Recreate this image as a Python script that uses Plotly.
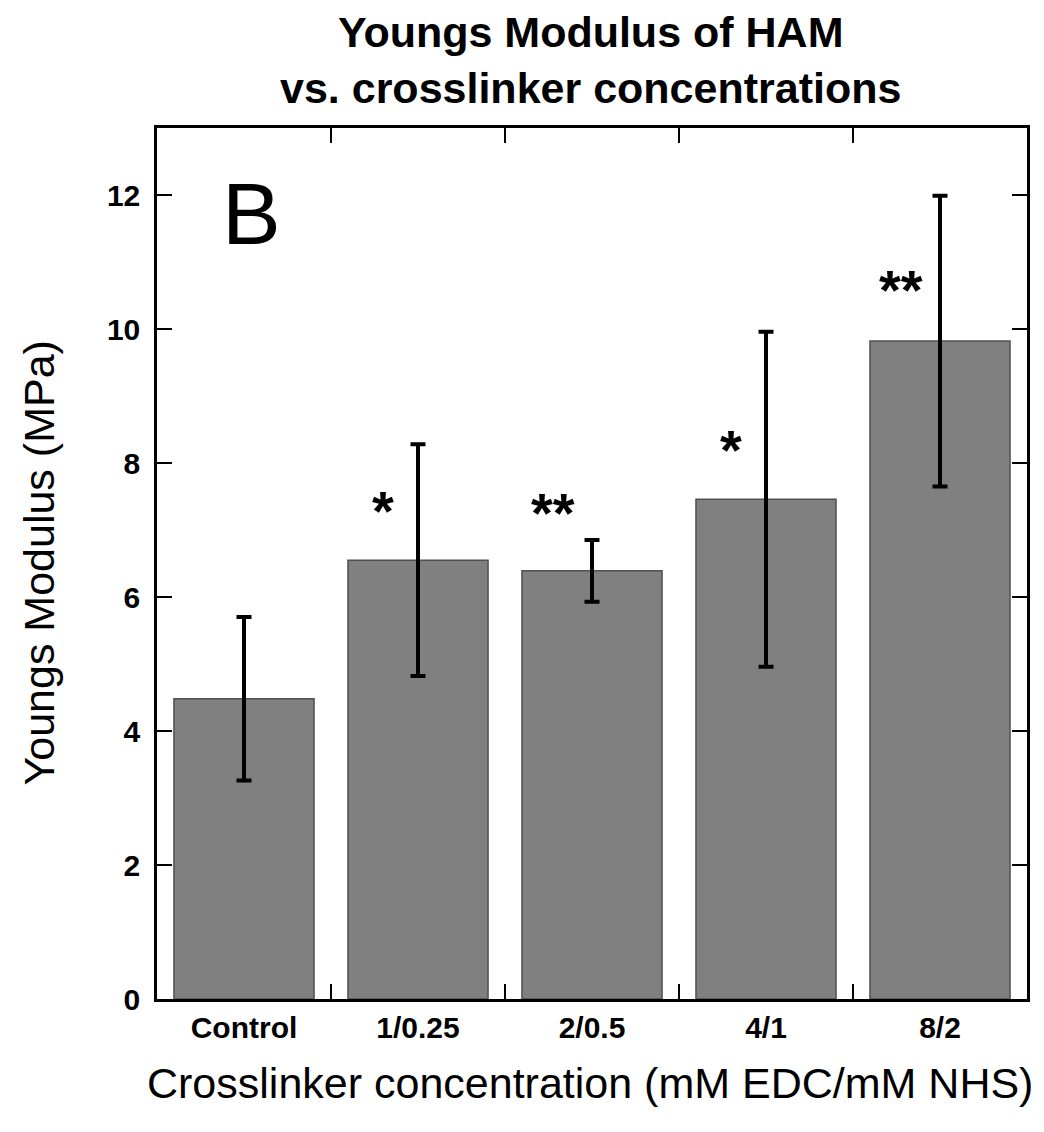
import plotly.graph_objects as go

categories = ["Control", "1/0.25", "2/0.5", "4/1", "8/2"]
modulus = [4.48, 6.55, 6.39, 7.46, 9.82]
err = [1.22, 1.73, 0.46, 2.50, 2.17]
signif = ["", "*", "**", "*", "**"]
signif_y = [None, 7.40, 7.37, 8.31, 10.69]

FONT = "Arial"

fig = go.Figure()
fig.add_trace(go.Bar(
    x=categories, y=modulus,
    marker=dict(color="#808080", line=dict(color="#505050", width=1.5)),
    width=0.805,
    error_y=dict(type="data", array=err, visible=True, color="black", thickness=4, width=7.5),
))

for i, s in enumerate(signif):
    if s:
        fig.add_annotation(x=categories[i], y=signif_y[i], xref="x", yref="y",
                           text="<b>" + s + "</b>", showarrow=False,
                           xanchor="center", yanchor="middle",
                           xshift=-35 if len(s) == 1 else -39, yshift=-7,
                           font=dict(family=FONT, size=56, color="black"))

fig.add_annotation(x=0.109, y=0.902, xref="paper", yref="paper", text="B", showarrow=False,
                   xanchor="center", yanchor="middle",
                   font=dict(family=FONT, size=88, color="black"))

# chart title
fig.add_annotation(x=0.5, y=1, xref="paper", yref="paper", xshift=-2, yshift=68,
                   text="<b>Youngs Modulus of HAM<br>vs. crosslinker concentrations</b>",
                   showarrow=False, xanchor="center", yanchor="middle",
                   font=dict(family=FONT, size=43, color="black"))
# axis titles
fig.add_annotation(x=0, y=0.5, xref="paper", yref="paper", xshift=-119,
                   text="Youngs Modulus (MPa)", textangle=-90,
                   showarrow=False, xanchor="center", yanchor="middle",
                   font=dict(family=FONT, size=43, color="black"))
fig.add_annotation(x=0.5, y=0, xref="paper", yref="paper", xshift=-2, yshift=-84,
                   text="Crosslinker concentration (mM EDC/mM NHS)",
                   showarrow=False, xanchor="center", yanchor="middle",
                   font=dict(family=FONT, size=43, color="black"))

fig.update_layout(
    width=1044, height=1132,
    margin=dict(l=149, r=25, t=120, b=141),
    paper_bgcolor="white", plot_bgcolor="white",
    showlegend=False,
    font=dict(family=FONT, color="black"),
    xaxis=dict(
        type="category", range=[-0.5, 4.5],
        showline=True, linecolor="black", linewidth=2.5, mirror="ticks",
        ticks="inside", ticklen=15, tickwidth=2, tickcolor="black",
        tickson="boundaries",
        tickfont=dict(family=FONT, size=30, color="black", weight="bold"),
        showgrid=False,
    ),
    yaxis=dict(
        range=[0, 13], tickvals=[0, 2, 4, 6, 8, 10, 12],
        showline=True, linecolor="black", linewidth=2.5, mirror="ticks",
        ticks="inside", ticklen=15, tickwidth=2, tickcolor="black",
        tickfont=dict(family=FONT, size=30, color="black", weight="bold"),
        ticklabelstandoff=8,
        showgrid=False, zeroline=False,
    ),
)

fig.write_html("out.html")
